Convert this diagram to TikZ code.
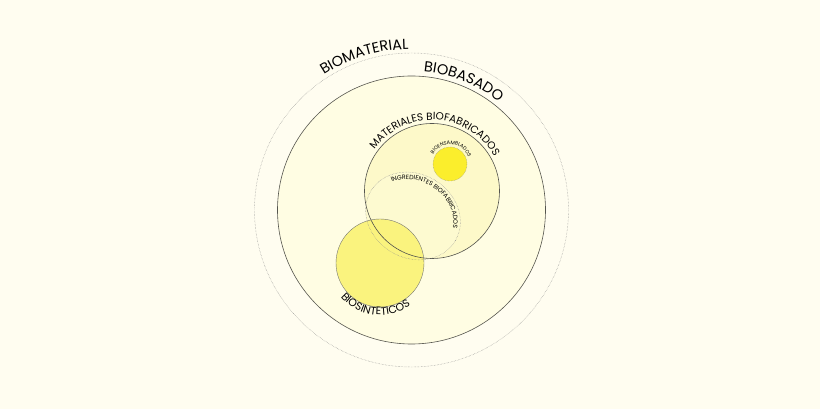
\documentclass[tikz,border=0pt]{standalone}
\usepackage{fontspec}
\newfontfamily\popfont{Poppins}
\usetikzlibrary{positioning,calc,shapes.geometric,decorations.text}
\definecolor{paper}{HTML}{FFFDF0}
\definecolor{basefill}{HTML}{FFFDE3}
\definecolor{fabfill}{HTML}{FDF9C9}
\definecolor{ingfill}{HTML}{FDFAD0}
\definecolor{sintfill}{HTML}{FAF37E}
\definecolor{ensfill}{HTML}{FBEE2C}
\definecolor{ringline}{HTML}{55554E}
\newcommand{\lblA}{\popfont\fontsize{14.5}{14.5}\selectfont}
\newcommand{\lblB}{\popfont\fontsize{10.4}{10.4}\selectfont}
\newcommand{\lblS}{\popfont\fontsize{10.8}{10.8}\selectfont}
\newcommand{\lblC}{\popfont\fontsize{6.2}{6.2}\selectfont}
\newcommand{\lblD}{\popfont\fontsize{5}{5}\selectfont}
\tikzset{
  every picture/.append style={line width=0.6pt},
  disc/.style={circle, inner sep=0pt, draw=none},
  ring/.style={draw=ringline, line width=0.6pt},
  thinring/.style={draw=ringline!80, line width=0.4pt},
  dotring/.style={draw=gray!90, line width=0.45pt, densely dotted},
  arclbl/.style={decorate, decoration={text along path, text align=center, text={#1}}}
}

\begin{document}
\begin{tikzpicture}[x=1pt, y=1pt]

% ============= Canvas =============
\fill[paper] (0,0) rectangle (820,409);
\useasboundingbox (0,0) rectangle (820,409);

% ============= Fills =============
\node[disc, minimum size=314pt] (biomaterial) at (411.5,199) {};
\node[disc, fill=basefill, minimum size=268pt] (biobasado) at (biomaterial.center) {};
\node[disc, fill=fabfill, minimum size=135pt] (biofabricados) at (432,218) {};
\node[ellipse, inner sep=0pt, fill=ingfill, minimum width=98pt, minimum height=84pt,
      rotate=-30] (ingredientes) at (413,193) {};
\node[disc, fill=ensfill, minimum size=34pt] (bioensamblados) at (450,245) {};
\node[disc, fill=sintfill, minimum size=88pt] (biosinteticos) at (380,146) {};

% ============= Outlines =============
\draw[dotring] (biomaterial.center) circle[radius=157pt];
\draw[ring] (biobasado.center) circle[radius=134pt];
\draw[ring] (biofabricados.center) circle[radius=67.5pt];
\draw[dotring, rotate around={-30:(ingredientes.center)}] (ingredientes.center)
      ellipse[x radius=49pt, y radius=42pt];
\draw[dotring] (bioensamblados.center) circle[radius=17pt];
\draw[thinring] (biosinteticos.center) circle[radius=44pt];

% ============= Labels =============
\path[arclbl={|\lblA|BIOMATERIAL}] ($(biomaterial.center)+(137:161pt)$)
      arc[start angle=137, end angle=77, radius=161pt];
\path[arclbl={|\lblA|BIOBASADO}] ($(biobasado.center)+(98:139pt)$)
      arc[start angle=98, end angle=38, radius=139pt];
\path[arclbl={|\lblB|MATERIALES BIOFABRICADOS}] ($(biofabricados.center)+(172:71pt)$)
      arc[start angle=172, end angle=1, radius=71pt];
\path[arclbl={|\lblD|BIOENSAMBLADOS}] ($(bioensamblados.center)+(205:19.5pt)$)
      arc[start angle=205, end angle=-35, radius=19.5pt];
\begin{scope}[shift={(ingredientes.center)}, rotate=-30]
  \path[arclbl={|\lblC|INGREDIENTES BIOFABRICADOS}] (172:42pt and 35pt)
        arc[start angle=172, end angle=-10, x radius=42pt, y radius=35pt];
\end{scope}
\path[arclbl={|\lblS|BIOSINTETICOS}] ($(biosinteticos.center)+(196:52pt)$)
      arc[start angle=196, end angle=331, radius=52pt];

\end{tikzpicture}
\end{document}
